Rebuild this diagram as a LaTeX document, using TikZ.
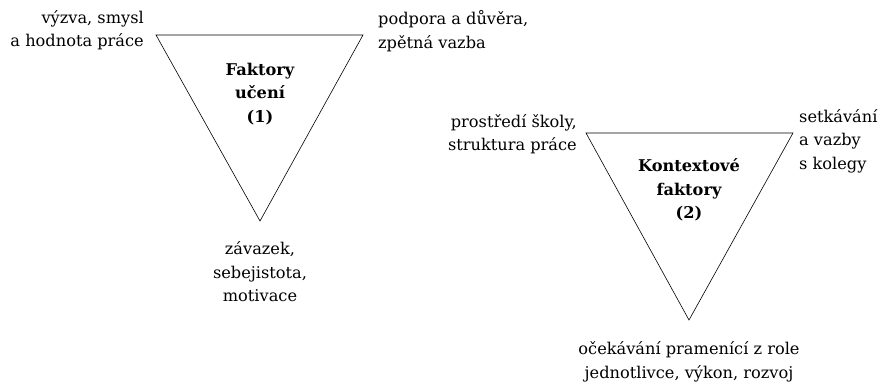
\documentclass[tikz,border=0pt]{standalone}
\usepackage{fontspec}
\setmainfont{DejaVu Serif}
\begin{document}
\begin{tikzpicture}[x=1pt,y=-1pt,
  lbl/.style={inner sep=0pt,font=\fontsize{16.2}{23.5}\selectfont},
  ttl/.style={lbl,font=\fontsize{16.2}{23.5}\selectfont\bfseries},
  tri/.style={draw,line width=0.6pt,line join=miter}]
\useasboundingbox (0,0) rectangle (881,384);
\coordinate (a1) at (156,35);
\coordinate (b1) at (363,35);
\coordinate (c1) at (260,221);
\coordinate (a2) at (586,133);
\coordinate (b2) at (793,133);
\coordinate (c2) at (689,320);
\draw[tri] (a1) -- (b1) -- (c1) -- cycle;
\draw[tri] (a2) -- (b2) -- (c2) -- cycle;
\node[lbl,align=right,anchor=east] (l1) at (144,30) {výzva, smysl\\a hodnota práce};
\node[lbl,align=left,anchor=west] (r1) at (378,31) {podpora a důvěra,\\zpětná vazba};
\node[ttl,align=center] (t1) at (260,94) {Faktory\\učení\\(1)};
\node[lbl,align=center] (d1) at (260,272) {závazek,\\sebejistota,\\motivace};
\node[lbl,align=right,anchor=east] (l2) at (577,134) {prostředí školy,\\struktura práce};
\node[lbl,align=left,anchor=west] (r2) at (799,141) {setkávání\\a vazby\\s kolegy};
\node[ttl,align=center] (t2) at (689,190) {Kontextové\\faktory\\(2)};
\node[lbl,align=center] (d2) at (689,362) {očekávání pramenící z role\\jednotlivce, výkon, rozvoj};
\end{tikzpicture}
\end{document}
